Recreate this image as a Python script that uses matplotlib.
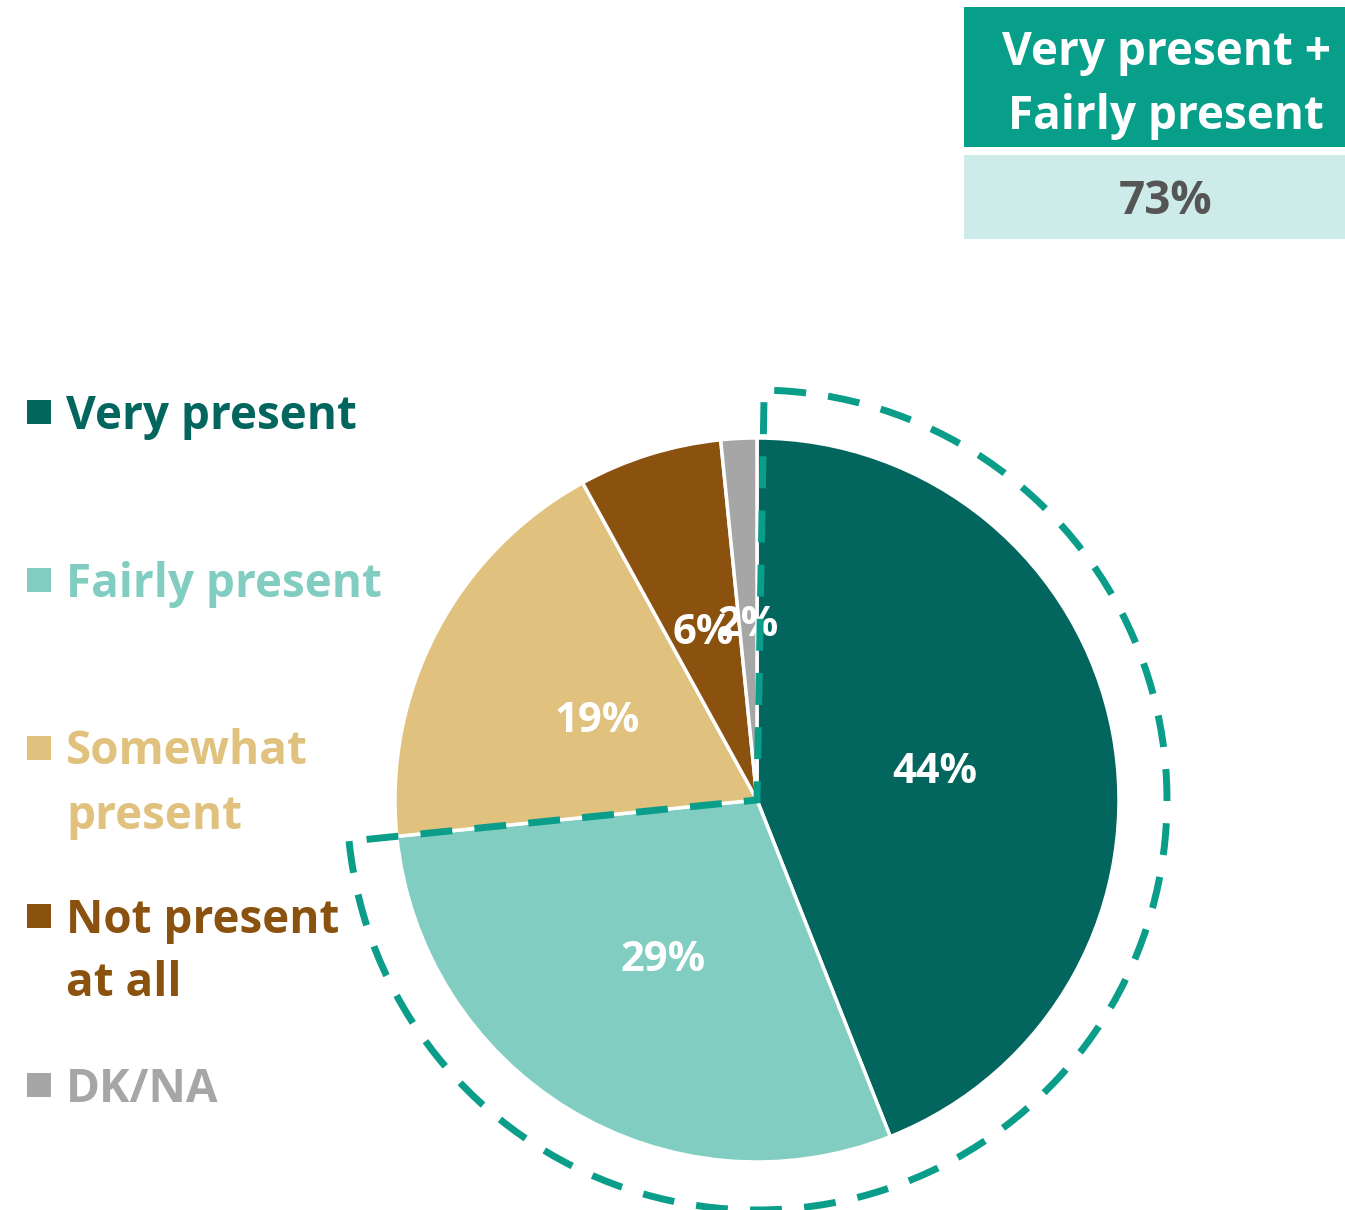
import matplotlib.pyplot as plt
from matplotlib.patches import Rectangle, Wedge

plt.rcParams['font.family'] = ['Open Sans', 'DejaVu Sans']

# data
labels = [['Very present'], ['Fairly present'], ['Somewhat', 'present'],
          ['Not present', 'at all'], ['DK/NA']]
values = [44.0, 29.4, 18.6, 6.4, 1.6]
colors = ['#02665E', '#82CDC1', '#E0C27E', '#8B520F', '#A6A6A6']
combined_label = ['Very present +', 'Fairly present']
combined_value = '73%'

W, H = 1345, 1210
fig = plt.figure(figsize=(W / 100, H / 100), dpi=100)
ax = fig.add_axes([0, 0, 1, 1])

# pie, y axis points up so image y -> H - y
cx, cy, r = 757, H - 800, 362
_, _, autotexts = ax.pie(values, colors=colors, startangle=90, counterclock=False,
                         center=(cx, cy), radius=r, autopct='%.0f%%', pctdistance=0.5,
                         wedgeprops=dict(edgecolor='white', linewidth=2.5),
                         textprops=dict(color='white', fontsize=30, fontweight='bold'))
for t in autotexts:
    x, y = t.get_position()
    t.set_position((x, y - 6))

# dashed outline around the first two slices
ang_end = 90 - 3.6 * (values[0] + values[1])
ax.add_patch(Wedge((cx, cy), 410, ang_end, 89, fill=False, edgecolor='#0A9E8A',
                   linewidth=5, linestyle=(0, (4.6, 3.2)), zorder=5))

# top-right summary box
ax.add_patch(Rectangle((964, H - 147), W - 964, 140, facecolor='#079E8A', edgecolor='none'))
ax.add_patch(Rectangle((964, H - 239), W - 964, 84, facecolor='#CDEBE8', edgecolor='none'))
for txt, y in zip(combined_label, [53, 116]):
    ax.text(1166, H - y, txt, color='white', fontsize=33, fontweight='bold',
            ha='center', va='center')
ax.text(1166, H - 202, combined_value, color='#555555', fontsize=33, fontweight='bold',
        ha='center', va='center')

# legend on the left
leg_y = [412, 580, 748, 916, 1085]
for lines, col, y in zip(labels, colors, leg_y):
    ax.add_patch(Rectangle((27, H - y - 12), 24, 24, facecolor=col, edgecolor='none'))
    for i, line in enumerate(lines):
        ax.text(66, H - y - 4 - 64 * i, line, color=col, fontsize=33, fontweight='bold',
                ha='left', va='center')

ax.set_xlim(0, W)
ax.set_ylim(0, H)
ax.axis('off')
fig.savefig('out.png', dpi=100)
